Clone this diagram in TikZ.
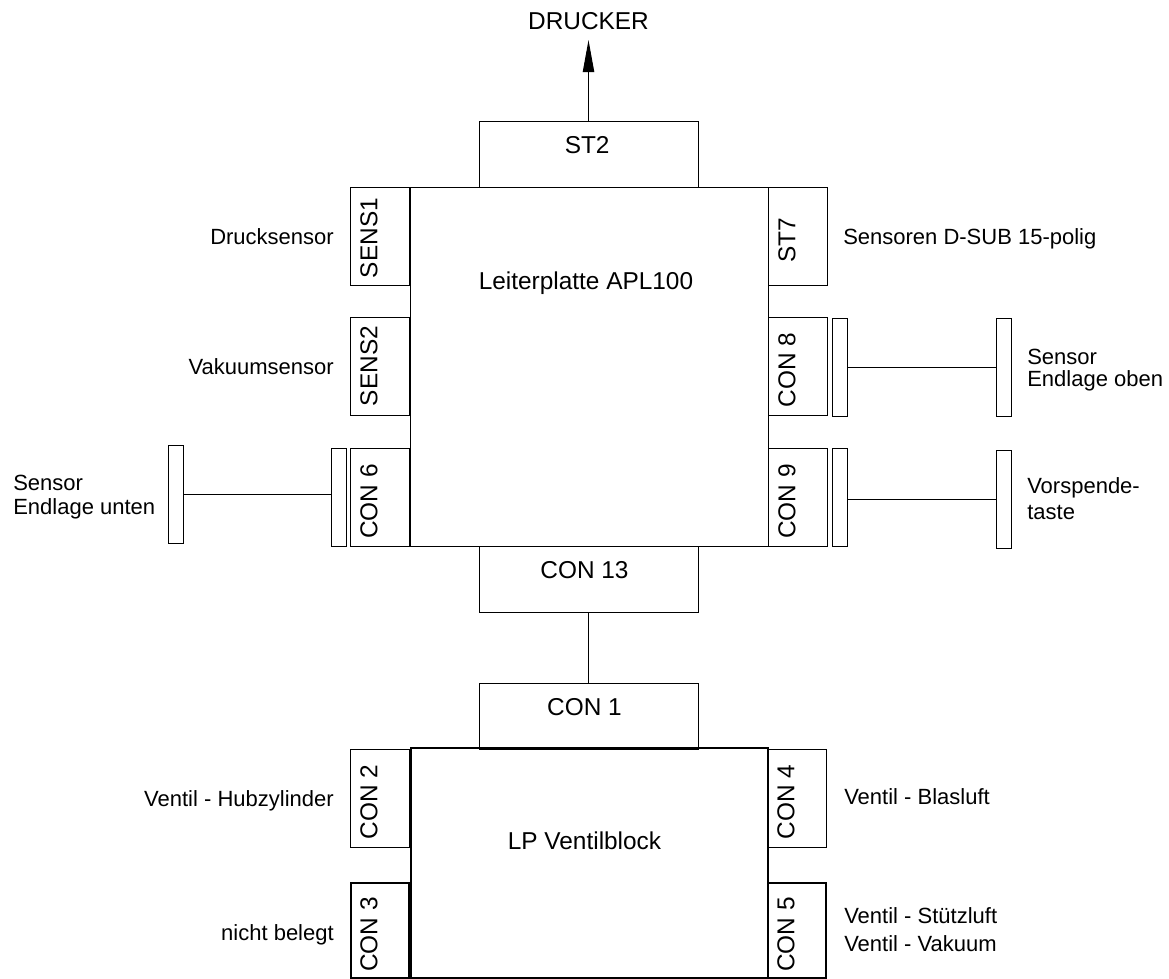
\documentclass[tikz,border=0pt]{standalone}
\usepackage{fontspec}
\setmainfont{Liberation Sans}
\usetikzlibrary{arrows.meta}
\newcommand{\bigfont}{\fontsize{18.3}{22}\selectfont}
\tikzset{
  >={Triangle[length=24pt,width=8.5pt]},
  board/.style={draw,fill=white,minimum width=#1*0.75pt,inner sep=0pt},
  title/.style={inner sep=0pt,font=\bigfont},
  hcon/.style={draw,minimum width=164.25pt,minimum height=49.5pt,inner sep=0pt,
    text height=13pt,text depth=14pt,font=\bigfont},
  vcon/.style={draw,rotate=90,minimum width=73.5pt,minimum height=44.25pt,inner sep=0pt,
    text height=13pt,text depth=17pt,font=\bigfont},
  vcon thick/.style={vcon,line width=1.5pt},
  bar/.style={draw,minimum width=11.25pt,minimum height=73.5pt,inner sep=0pt},
  tag/.style={inner sep=0pt,align=left,font=\fontsize{16.5}{21}\selectfont},
  wire/.style={line width=0.75pt},
}
\begin{document}
\begin{tikzpicture}[x=0.75pt,y=-0.75pt]
  \useasboundingbox (0,0) rectangle (1169,978);
  % boards
  \node[board=358,minimum height=269.25pt] (apl) at (589,366.5) {};
  \node[board=357,minimum height=172.5pt,line width=1.5pt] (lpv) at (589.5,863) {};
  \node[title] (apltext) at (586,283) {Leiterplatte APL100};
  \node[title] (lpvtext) at (584.5,841) {LP Ventilblock};
  % top and middle connectors
  \foreach \n/\y/\s/\t in {st2/154/2/ST2, con13/579/6/CON 13, con1/716/6/CON 1}
    \node[hcon] (\n) at (588.5,\y) {\t\hspace*{\s pt}};
  \foreach \n/\x/\y/\s/\t in {
    sens1/380/236/3/SENS1, sens2/380/366/0/SENS2, con6/380/497.5/6/CON 6,
    st7/798/236/6/ST7, con8/798/366/6/CON 8, con9/798/497.5/6/CON 9,
    con2/380/798/6/CON 2}
    \node[vcon] (\n) at (\x,\y) {\t\hspace*{\s pt}};
  \node[vcon,minimum height=43.5pt] (con4) at (797,798) {CON 4\hspace*{6pt}};
  \foreach \n/\x/\t in {con3/380/CON 3, con5/797/CON 5}
    \node[vcon thick,minimum width=71.25pt,minimum height=43.5pt] (\n) at (\x,930.5) {\t\hspace*{6pt}};
  % plugs
  \foreach \n/\x/\y in {
    plugsix/338.5/497.5, farsix/175.5/494.5,
    plugeight/839.5/367, fareight/1003.5/367,
    plugnine/839.5/497.5, farnine/1003.5/499}
    \node[bar] (\n) at (\x,\y) {};
  % connectors
  \node[title,text height=13pt,text depth=8pt,anchor=south] (drucker) at (588.5,40) {DRUCKER};
  \draw[->,wire] (st2.north) -- (drucker.south);
  \draw[wire] (con13) -- (con1);
  \draw[wire] (farsix.east) -- (farsix.east -| plugsix.west);
  \draw[wire] (plugeight) -- (fareight);
  \draw[wire] (farnine.west) -- (farnine.west -| plugnine.east);
  % labels
  \foreach \n/\x/\y/\t in {
    ldruck/334/237/Drucksensor, lvak/334/367/Vakuumsensor,
    lhub/334/801/Ventil - Hubzylinder, lnicht/334/935/nicht belegt}
    \node[tag,anchor=east] (\n) at (\x,\y) {\t};
  \foreach \n/\x/\y/\t in {
    lsub/843/239/Sensoren D-SUB 15-polig, lblas/844/797/Ventil - Blasluft,
    lunten/13/497/{Sensor\\[-3pt]Endlage unten}, loben/1027/370.5/{Sensor\\[-4.5pt]Endlage oben},
    lvor/1027/498.5/{Vorspende-\\[-2pt]taste}, lstuetz/844/929.5/{Ventil - Stützluft\\Ventil - Vakuum}}
    \node[tag,anchor=west] (\n) at (\x,\y) {\t};
\end{tikzpicture}
\end{document}
